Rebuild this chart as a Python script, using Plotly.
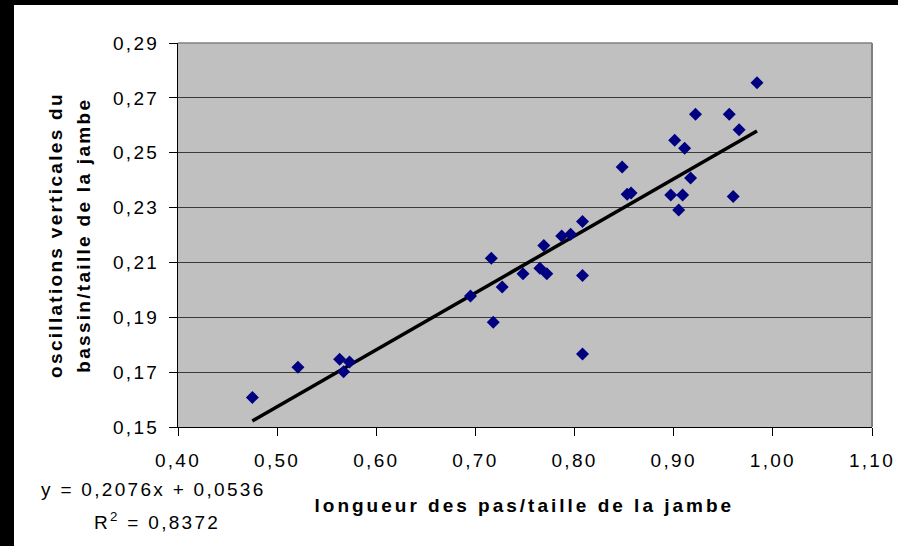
import plotly.graph_objects as go

# ---- data ----
stride_ratio = [0.475, 0.521, 0.563, 0.567, 0.573, 0.695, 0.716, 0.718, 0.727, 0.748,
                0.765, 0.772, 0.769, 0.787, 0.796, 0.808, 0.808, 0.808, 0.848, 0.853,
                0.857, 0.897, 0.901, 0.905, 0.909, 0.911, 0.917, 0.922, 0.956, 0.960,
                0.966, 0.984]
vert_osc_ratio = [0.1608, 0.1718, 0.1747, 0.1701, 0.1737, 0.1978, 0.2115, 0.1882, 0.2010, 0.2059,
                  0.2079, 0.2059, 0.2162, 0.2196, 0.2203, 0.2249, 0.2052, 0.1766, 0.2448, 0.2349,
                  0.2353, 0.2346, 0.2545, 0.2291, 0.2346, 0.2516, 0.2408, 0.2640, 0.2640, 0.2340,
                  0.2584, 0.2755]
trend_slope = 0.2076
trend_intercept = 0.0536
r_squared = "0,8372"
x_tick_vals = [0.40, 0.50, 0.60, 0.70, 0.80, 0.90, 1.00, 1.10]
y_tick_vals = [0.15, 0.17, 0.19, 0.21, 0.23, 0.25, 0.27, 0.29]
x_title = "longueur des pas/taille de la jambe"
y_title_lines = ["oscillations verticales du", "bassin/taille de la jambe"]
equation_text = "y = 0,2076x + 0,0536"

# ---- layout geometry ----
W, H = 898, 546
ML, MR, MT, MB = 178, 26, 43, 119
PW, PH = W - ML - MR, H - MT - MB


def px(xp):
    return (xp - ML) / PW


def py(yp):
    return (H - MB - yp) / PH


FONT = "Liberation Sans, Arial, sans-serif"

trend_x = [min(stride_ratio), max(stride_ratio)]
trend_y = [trend_slope * v + trend_intercept for v in trend_x]

fig = go.Figure()
fig.add_trace(go.Scatter(
    x=trend_x, y=trend_y, mode="lines",
    line=dict(color="#000000", width=3.5), hoverinfo="skip", showlegend=False))
fig.add_trace(go.Scatter(
    x=stride_ratio, y=vert_osc_ratio, mode="markers",
    marker=dict(symbol="diamond", size=10, color="#000080", line=dict(width=0)),
    showlegend=False))

annotations = [
    dict(text="<b>%s</b>" % x_title, x=px(524), y=py(505), xref="paper", yref="paper",
         xanchor="center", yanchor="middle", showarrow=False,
         font=dict(family=FONT, size=19, color="#000000")),
    dict(text="<b>%s</b>" % y_title_lines[0], x=px(55), y=py(235), xref="paper", yref="paper",
         xanchor="center", yanchor="middle", showarrow=False, textangle=-90,
         font=dict(family=FONT, size=19, color="#000000")),
    dict(text="<b>%s</b>" % y_title_lines[1], x=px(83), y=py(235), xref="paper", yref="paper",
         xanchor="center", yanchor="middle", showarrow=False, textangle=-90,
         font=dict(family=FONT, size=19, color="#000000")),
    dict(text=equation_text, x=px(39), y=py(489), xref="paper", yref="paper",
         xanchor="left", yanchor="middle", align="left", showarrow=False,
         font=dict(family=FONT, size=19, color="#000000")),
    dict(text="R<sup>2</sup> = " + r_squared, x=px(92), y=py(521), xref="paper", yref="paper",
         xanchor="left", yanchor="middle", align="left", showarrow=False,
         font=dict(family=FONT, size=19, color="#000000")),
]

shapes = [
    # white page area (paper is black so the black top edge shows)
    dict(type="rect", xref="paper", yref="paper", x0=px(14), x1=px(W + 2), y0=py(H + 2), y1=py(5),
         fillcolor="#ffffff", line=dict(width=0), layer="below"),
    # plot area background
    dict(type="rect", xref="paper", yref="paper", x0=0, x1=1, y0=0, y1=1,
         fillcolor="#c0c0c0", line=dict(width=0), layer="below"),
    # black strip along the left edge
    dict(type="rect", xref="paper", yref="paper", x0=px(0), x1=px(14), y0=py(H), y1=py(0),
         fillcolor="#000000", line=dict(width=0), layer="above"),
    # grey frame on top and right of plot area
    dict(type="line", xref="paper", yref="paper", x0=0, x1=1, y0=1, y1=1,
         line=dict(color="#808080", width=1.5), layer="above"),
    dict(type="line", xref="paper", yref="paper", x0=1, x1=1, y0=0, y1=1,
         line=dict(color="#808080", width=2), layer="above"),
]

fig.update_layout(
    width=W, height=H, autosize=False,
    margin=dict(l=ML, r=MR, t=MT, b=MB, pad=0, autoexpand=False),
    paper_bgcolor="#000000", plot_bgcolor="#c0c0c0",
    separators=",.",
    font=dict(family=FONT, size=19, color="#000000"),
    annotations=annotations, shapes=shapes,
    xaxis=dict(range=[0.40, 1.10], tickvals=x_tick_vals, tickformat=".2f", automargin=False,
               showgrid=False, zeroline=False, showline=True, linecolor="#000000", linewidth=1,
               ticks="outside", ticklen=8, tickcolor="#000000", tickwidth=1,
               ticklabelstandoff=8, tickfont=dict(family=FONT, size=19, color="#000000")),
    yaxis=dict(range=[0.15, 0.29], tickvals=y_tick_vals, tickformat=".2f", automargin=False,
               showgrid=True, gridcolor="#3a3a3a", gridwidth=1, zeroline=False,
               showline=True, linecolor="#000000", linewidth=1,
               ticks="outside", ticklen=8, tickcolor="#000000", tickwidth=1,
               ticklabelstandoff=6, tickfont=dict(family=FONT, size=19, color="#000000")),
)

post = """
document.documentElement.style.margin = '0';
document.documentElement.style.overflow = 'hidden';
document.body.style.margin = '0';
document.body.style.overflow = 'hidden';
var gd = document.getElementById('{plot_id}');
gd.querySelectorAll('text').forEach(function(t){
  var s = (t.textContent || '');
  t.style.letterSpacing = (s.indexOf('longueur') === 0) ? '3px' : '2.3px';
});
"""

fig.write_html("out.html", post_script=post, config={"responsive": False, "displayModeBar": False})
